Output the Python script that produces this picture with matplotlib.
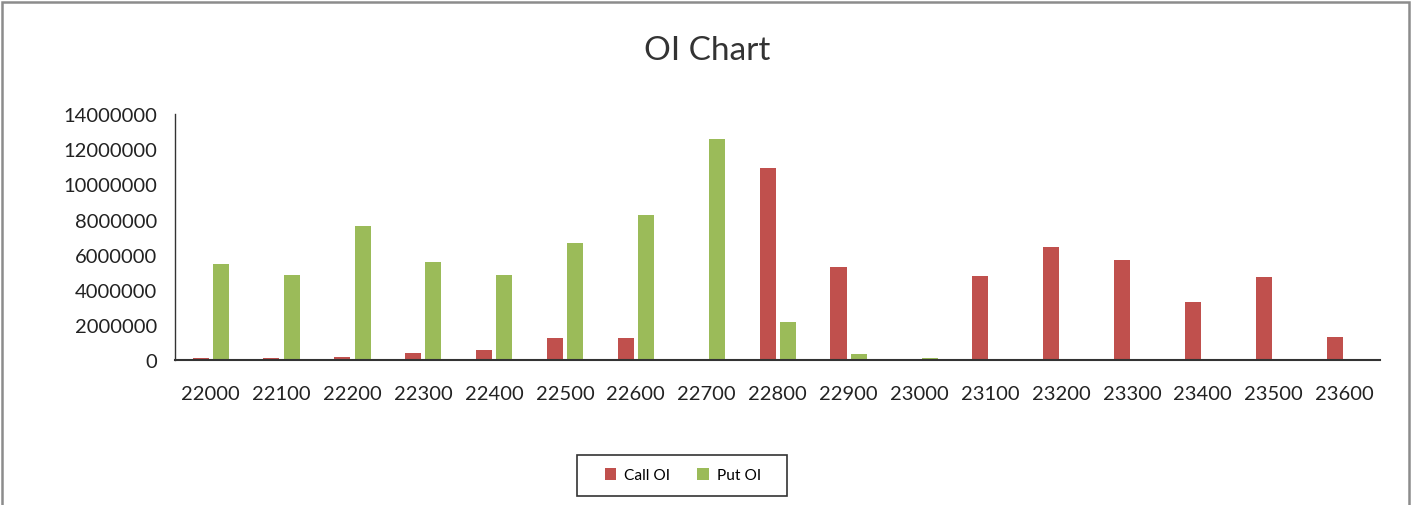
import matplotlib.pyplot as plt
import numpy as np
from matplotlib.patches import Rectangle

plt.rcParams['font.family'] = ['Lato', 'DejaVu Sans']

strikes = ["22000", "22100", "22200", "22300", "22400", "22500", "22600", "22700", "22800",
           "22900", "23000", "23100", "23200", "23300", "23400", "23500", "23600"]
call_oi = [90000, 130000, 180000, 400000, 580000, 1270000, 1270000, 0, 10960000,
           5280000, 0, 4760000, 6430000, 5680000, 3330000, 4700000, 1320000]
put_oi = [5450000, 4820000, 7630000, 5570000, 4820000, 6660000, 8260000, 12570000, 2180000,
          340000, 120000, 0, 0, 0, 0, 0, 0]
yticks = [0, 2000000, 4000000, 6000000, 8000000, 10000000, 12000000, 14000000]

red = "#c0504d"
green = "#9bbb59"

fig = plt.figure(figsize=(14.15, 5.06), dpi=100)
ax = fig.add_axes([0.1237, 0.2865, 0.8516, 0.486])

x = np.arange(len(strikes))
w = 0.226
ax.bar(x - 0.14, call_oi, w, color=red, label="Call OI")
ax.bar(x + 0.145, put_oi, w, color=green, label="Put OI")

ax.set_xlim(-0.5, len(strikes) - 0.5)
ax.set_ylim(0, 14000000)
ax.set_yticks(yticks)
ax.set_yticklabels([str(v) for v in yticks])
ax.set_xticks(x)
ax.set_xticklabels(strikes)
ax.tick_params(length=0, labelsize=14.5, colors="#222222")
ax.tick_params(axis="y", pad=13)
ax.tick_params(axis="x", pad=18)

for s in ["top", "right"]:
    ax.spines[s].set_visible(False)
for s in ["left", "bottom"]:
    ax.spines[s].set_color("#333333")
    ax.spines[s].set_linewidth(1.5)
ax.spines["left"].set_linewidth(1.0)

fig.text(0.4995, 0.9, "OI Chart", ha="center", va="center", fontsize=24, color="#333333")

leg = fig.legend(loc="center", bbox_to_anchor=(0.4826, 0.0586), ncol=2, frameon=False,
                 fontsize=11.2, handlelength=0.75, handleheight=0.75,
                 columnspacing=1.75, handletextpad=0.5, borderpad=0, borderaxespad=0)

# legend box, wider than the entries
fig.patches.append(Rectangle((577 / 1415, 9 / 506), 210 / 1415, 41 / 506,
                             transform=fig.transFigure, fill=False,
                             edgecolor="#333333", linewidth=1.2))

# outer chart border
fig.patches.append(Rectangle((2 / 1415, -0.01), 1407 / 1415, 1.0 - 3 / 506 + 0.01,
                             transform=fig.transFigure, fill=False,
                             edgecolor="#8c8c8c", linewidth=1.8))

fig.savefig("out.png", dpi=100)
